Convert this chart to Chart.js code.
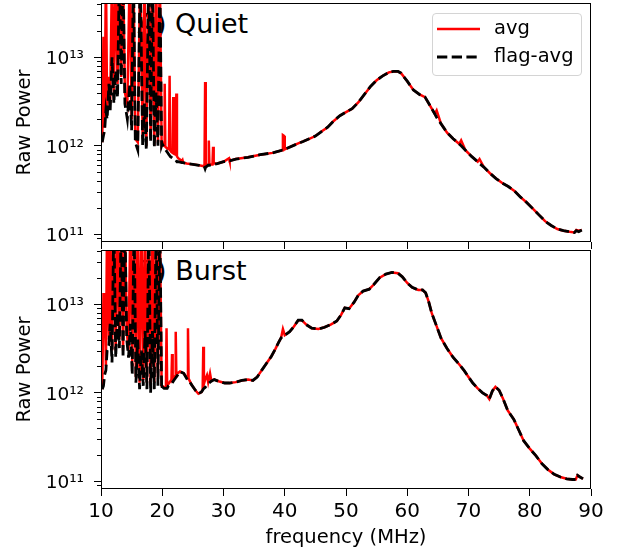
<!DOCTYPE html>
<html>
<head>
<meta charset="utf-8">
<script src="https://cdn.jsdelivr.net/npm/chart.js@4.4.1/dist/chart.umd.min.js"></script>
<style>
  html, body { margin: 0; padding: 0; background: #fff; }
  #fig { position: relative; width: 622px; height: 553px; font-family: "DejaVu Sans", sans-serif; color: #000; overflow: hidden; }
  #fig canvas { position: absolute; left: 0; }
  .panel-label { position: absolute; left: 127px; font-size: 27px; line-height: 27px; white-space: nowrap; }
  #legend { position: absolute; left: 432px; top: 13px; width: 150px; height: 63px; box-sizing: border-box;
            border: 1px solid #d4d4d4; border-radius: 4px; background: rgba(255,255,255,0.8); }
  #legend svg { position: absolute; left: 4px; }
  #legend span { position: absolute; left: 61px; font-size: 19.5px; line-height: 19.5px; white-space: nowrap; }
</style>
</head>
<body>
<div id="fig">
  <div class="panel-label" style="top:9.5px">(A) Quiet</div>
  <div class="panel-label" style="top:256.5px">(B) Burst</div>
  <canvas id="quiet" width="622" height="250" style="top:0"></canvas>
  <canvas id="burst" width="622" height="308" style="top:245px"></canvas>
  <div id="legend"></div>
</div>
<script>
// axis ticks
const xTicks = [10, 20, 30, 40, 50, 60, 70, 80, 90];
const yTicks = [1e11, 1e12, 1e13];
const yTickLabels = ['10\u00b9\u00b9', '10\u00b9\u00b2', '10\u00b9\u00b3'];

// (A) Quiet - frequency (MHz), raw power
const quietFreq = [
  10.2, 10.4, 10.6, 10.8, 11.0, 11.3, 11.5, 11.8, 12.1, 12.4,
  12.7, 13.0, 13.3, 13.6, 13.9, 14.3, 14.7, 15.0, 15.3, 15.6,
  16.0, 16.4, 16.8, 17.1, 17.4, 17.8, 18.1, 18.4, 18.7, 19.0,
  19.3, 19.6, 19.9,
  20.0, 20.3, 20.4, 20.5, 20.8, 21.1, 21.2, 21.3, 21.5, 21.7, 21.8,
  21.9, 22.2, 22.3, 22.4, 22.6, 23.2, 23.3, 23.4, 24.0, 25.0,
  26.0, 26.8, 26.9, 27.0, 27.1, 27.5, 27.6, 27.7, 28.2, 28.3,
  28.4, 29.0, 30.0, 30.9, 31.0, 32.0, 34.0, 36.0, 38.0, 39.6,
  39.7, 39.9, 40.0, 42.0, 43.0, 44.0, 45.0, 46.0, 47.0, 48.0,
  49.0, 50.0, 51.0, 52.0, 53.0, 54.0, 55.0, 56.0, 57.0, 57.7,
  58.5, 59.0, 60.0, 61.0, 62.0, 62.9, 63.5, 64.5, 64.8, 65.5,
  66.5, 67.5, 68.5, 68.8, 69.5, 70.5, 71.5, 71.8, 72.5, 73.5,
  74.5, 75.5, 76.5, 77.5, 78.5, 79.5, 80.5, 81.5, 82.5, 83.5,
  84.5, 85.5, 86.5, 87.3, 87.6, 88.0, 88.5
];
const quietAvg = [
  1.1e12, 1.7e13, 1.6e12, 1e14, 2.5e12, 6e12, 3e12, 1e14, 4e12, 1e14,
  5e12, 1e14, 6e12, 1e14, 4e12, 3e12, 1e14, 2e12, 1e14, 1.2e12,
  1.1e12, 1e14, 1.2e12, 1e14, 1.0e12, 1e14, 1.2e12, 1e14, 1.0e12, 1e14,
  1.1e12, 1e14, 1.05e12,
  1.10e12, 1.00e12, 5.01e12, 9.77e11, 9.33e11, 9.12e11, 6.17e12, 8.91e11, 8.51e11, 8.32e11, 3.55e12,
  8.13e11, 7.94e11, 3.89e12, 7.59e11, 7.24e11, 6.76e11, 6.92e11, 6.46e11, 6.31e11, 6.17e11,
  6.03e11, 5.89e11, 5.89e11, 5.25e12, 6.03e11, 6.17e11, 1.15e12, 6.17e11, 6.17e11, 9.77e11,
  6.31e11, 6.31e11, 6.61e11, 7.24e11, 6.76e11, 7.08e11, 7.41e11, 7.94e11, 8.32e11, 8.91e11,
  1.32e12, 1.29e12, 9.12e11, 1.05e12, 1.12e12, 1.20e12, 1.29e12, 1.45e12, 1.62e12, 1.91e12,
  2.19e12, 2.40e12, 2.63e12, 3.09e12, 3.80e12, 4.68e12, 5.50e12, 6.17e12, 6.76e12, 6.92e12,
  6.92e12, 6.61e12, 5.37e12, 4.27e12, 3.80e12, 3.55e12, 3.02e12, 2.29e12, 2.51e12, 1.78e12,
  1.41e12, 1.20e12, 1.05e12, 1.15e12, 8.91e11, 7.59e11, 6.61e11, 7.08e11, 5.75e11, 4.90e11,
  4.27e11, 3.80e11, 3.47e11, 3.09e11, 2.63e11, 2.29e11, 1.95e11, 1.66e11, 1.41e11, 1.26e11,
  1.15e11, 1.10e11, 1.07e11, 1.05e11, 1.12e11, 1.10e11, 1.12e11
];
const quietFlag = [
  1.1e12, 1.3e12, 1.5e12, 2.5e12, 2.0e12, 5e12, 2.5e12, 1e13, 3e12, 7e12,
  3.5e12, 1e14, 5e12, 1e14, 3e12, 2e12, 5e12, 1.5e12, 1e14, 1.1e12,
  9e11, 1e14, 1.0e12, 3e12, 9e11, 1e14, 1.1e12, 1e14, 9.5e11, 4e12,
  1.0e12, 1e14, 1.0e12,
  1.05e12, 9.55e11, 9.33e11, 9.12e11, 8.51e11, 7.94e11, 7.76e11, 7.59e11, 7.41e11, 7.24e11, 7.08e11,
  7.08e11, 6.92e11, 6.76e11, 6.61e11, 6.61e11, 6.46e11, 6.46e11, 6.46e11, 6.31e11, 6.17e11,
  6.03e11, 5.89e11, 5.75e11, 5.50e11, 5.75e11, 6.03e11, 6.03e11, 6.03e11, 6.17e11, 6.17e11,
  6.17e11, 6.31e11, 6.61e11, 6.76e11, 6.76e11, 7.08e11, 7.41e11, 7.94e11, 8.32e11, 8.91e11,
  8.91e11, 9.12e11, 9.12e11, 1.05e12, 1.12e12, 1.20e12, 1.29e12, 1.45e12, 1.62e12, 1.91e12,
  2.19e12, 2.40e12, 2.63e12, 3.09e12, 3.80e12, 4.68e12, 5.50e12, 6.17e12, 6.76e12, 6.92e12,
  6.92e12, 6.61e12, 5.37e12, 4.27e12, 3.80e12, 3.55e12, 3.02e12, 2.29e12, 2.09e12, 1.78e12,
  1.41e12, 1.20e12, 1.05e12, 1.00e12, 8.91e11, 7.59e11, 6.61e11, 6.31e11, 5.75e11, 4.90e11,
  4.27e11, 3.80e11, 3.47e11, 3.09e11, 2.63e11, 2.29e11, 1.95e11, 1.66e11, 1.41e11, 1.26e11,
  1.15e11, 1.10e11, 1.07e11, 1.05e11, 1.10e11, 1.07e11, 1.12e11
];

// (B) Burst
const burstFreq = [
  10.2, 10.4, 10.6, 10.8, 11.0, 11.3, 11.5, 11.8, 12.1, 12.4,
  12.7, 13.0, 13.3, 13.6, 13.9, 14.2, 14.5, 14.8, 15.1, 15.4,
  15.7, 16.0, 16.3, 16.6, 16.9, 17.2, 17.5, 17.8, 18.1, 18.4,
  18.7, 19.0, 19.3, 19.6, 19.9,
  20.0, 20.3, 20.6, 20.7, 20.8, 21.0, 21.5, 21.6, 21.7, 22.1, 22.2,
  22.3, 22.9, 23.5, 24.1, 24.2, 24.3, 24.8, 25.4, 25.9, 26.4,
  26.6, 26.7, 26.8, 27.0, 27.3, 27.5, 27.8, 28.0, 28.5, 29.2,
  30.2, 31.0, 32.0, 33.0, 34.0, 34.8, 35.5, 36.2, 37.0, 37.8,
  38.5, 39.0, 39.4, 39.7, 40.0, 40.8, 41.5, 42.2, 42.8, 43.5,
  44.4, 45.5, 46.5, 47.5, 48.5, 49.2, 49.8, 50.5, 51.3, 52.0,
  52.8, 53.8, 54.5, 55.5, 56.5, 57.5, 58.5, 59.2, 60.0, 60.8,
  61.8, 62.5, 63.0, 63.5, 64.0, 64.7, 65.5, 66.5, 67.5, 68.5,
  69.3, 70.0, 70.7, 71.5, 72.3, 73.0, 73.4, 73.9, 74.4, 75.0,
  75.6, 76.4, 77.4, 78.2, 79.0, 80.0, 81.0, 82.0, 83.0, 84.0,
  85.0, 86.0, 87.0, 87.5, 87.8, 88.2, 88.7
];
const burstAvg = [
  1.1e12, 1.3e13, 1.3e13, 2.0e12, 1e14, 4e12, 1e14, 3e12, 1e14, 3e12,
  1e14, 4e12, 1e14, 3e12, 1e14, 5e12, 3e12, 1e14, 2e12, 1e14,
  1.5e12, 1e14, 1.3e12, 1e14, 1.4e12, 1e14, 1.3e12, 1e14, 1.2e12, 1e14,
  1.3e12, 1e14, 1.5e12, 1e14, 1.2e12,
  1.20e12, 1.15e12, 1.15e12, 5.37e12, 1.20e12, 1.26e12, 1.41e12, 2.75e12, 1.41e12, 1.55e12, 4.90e12,
  1.62e12, 1.74e12, 1.66e12, 1.45e12, 5.37e12, 1.45e12, 1.23e12, 1.07e12, 9.77e11, 1.02e12,
  1.10e12, 3.31e12, 1.26e12, 1.41e12, 1.58e12, 1.32e12, 1.66e12, 1.38e12, 1.41e12, 1.35e12,
  1.29e12, 1.29e12, 1.32e12, 1.38e12, 1.41e12, 1.38e12, 1.51e12, 1.78e12, 2.14e12, 2.57e12,
  3.16e12, 3.72e12, 4.17e12, 5.25e12, 4.47e12, 4.90e12, 5.62e12, 6.61e12, 6.61e12, 5.89e12,
  5.37e12, 5.25e12, 5.50e12, 5.89e12, 6.46e12, 7.59e12, 9.12e12, 8.91e12, 1.05e13, 1.26e13,
  1.41e13, 1.48e13, 1.66e13, 2.00e13, 2.19e13, 2.29e13, 2.24e13, 2.04e13, 1.74e13, 1.55e13,
  1.45e13, 1.45e13, 1.35e13, 1.07e13, 7.94e12, 5.89e12, 4.17e12, 3.16e12, 2.51e12, 2.09e12,
  1.78e12, 1.51e12, 1.29e12, 1.12e12, 1.00e12, 9.33e11, 8.51e11, 1.05e12, 1.17e12, 1.07e12,
  8.71e11, 6.31e11, 5.01e11, 3.80e11, 2.88e11, 2.34e11, 1.95e11, 1.58e11, 1.35e11, 1.20e11,
  1.12e11, 1.07e11, 1.05e11, 1.05e11, 1.17e11, 1.12e11, 1.07e11
];
const burstFlag = [
  1.1e12, 1.2e12, 1.6e12, 1.8e12, 3e12, 3.5e12, 6e12, 2.2e12, 1e14, 2.5e12,
  8e12, 3.2e12, 1e14, 2.5e12, 1e14, 4e12, 2.5e12, 6e12, 1.6e12, 1e14,
  1.3e12, 4e12, 1.1e12, 3e12, 1.2e12, 5e12, 1.1e12, 1e14, 1.0e12, 5e12,
  1.1e12, 1e14, 1.2e12, 1e14, 1.1e12,
  1.17e12, 1.12e12, 1.12e12, 1.12e12, 1.12e12, 1.20e12, 1.29e12, 1.29e12, 1.32e12, 1.45e12, 1.48e12,
  1.51e12, 1.74e12, 1.66e12, 1.41e12, 1.41e12, 1.38e12, 1.23e12, 1.07e12, 9.77e11, 1.02e12,
  1.07e12, 1.10e12, 1.12e12, 1.15e12, 1.23e12, 1.26e12, 1.32e12, 1.35e12, 1.41e12, 1.35e12,
  1.29e12, 1.29e12, 1.32e12, 1.38e12, 1.41e12, 1.38e12, 1.51e12, 1.78e12, 2.14e12, 2.57e12,
  3.16e12, 3.72e12, 4.17e12, 4.37e12, 4.47e12, 4.90e12, 5.62e12, 6.61e12, 6.61e12, 5.89e12,
  5.37e12, 5.25e12, 5.50e12, 5.89e12, 6.46e12, 7.59e12, 9.12e12, 8.91e12, 1.05e13, 1.26e13,
  1.41e13, 1.48e13, 1.66e13, 2.00e13, 2.19e13, 2.29e13, 2.24e13, 2.04e13, 1.74e13, 1.55e13,
  1.45e13, 1.45e13, 1.35e13, 1.07e13, 7.94e12, 5.89e12, 4.17e12, 3.16e12, 2.51e12, 2.09e12,
  1.78e12, 1.51e12, 1.29e12, 1.12e12, 1.00e12, 9.33e11, 8.51e11, 1.05e12, 1.17e12, 1.07e12,
  8.71e11, 6.31e11, 5.01e11, 3.80e11, 2.88e11, 2.34e11, 1.95e11, 1.58e11, 1.35e11, 1.20e11,
  1.12e11, 1.07e11, 1.05e11, 1.05e11, 1.17e11, 1.12e11, 1.07e11
];

const FONT = '"DejaVu Sans", sans-serif';
const RED = '#ff0000';
const DASH = [10.3, 4.4];

// box round the axes + short minor ticks on the log axis
const framePlugin = {
  id: 'frame',
  afterDraw(chart) {
    const { ctx, chartArea: a } = chart;
    const y = chart.scales.y;
    ctx.save();
    ctx.strokeStyle = '#000';
    ctx.lineWidth = 1;
    ctx.beginPath();
    for (let e = 10; e <= 13; e++) {
      for (let m = 2; m <= 9; m++) {
        const v = m * Math.pow(10, e);
        if (v < y.min || v > y.max) continue;
        const py = Math.round(y.getPixelForValue(v)) + 0.5;
        ctx.moveTo(a.left - 4, py);
        ctx.lineTo(a.left, py);
      }
    }
    ctx.stroke();
    ctx.strokeRect(Math.round(a.left) + 0.5, Math.round(a.top) + 0.5,
                   Math.round(a.right - a.left) - 1, Math.round(a.bottom - a.top) - 1);
    ctx.restore();
  }
};

function makePanel(id, freq, avg, flag, showX) {
  const pts = arr => freq.map((f, i) => ({ x: f, y: arr[i] }));
  return new Chart(document.getElementById(id), {
    type: 'line',
    data: {
      datasets: [
        { label: 'avg', data: pts(avg), borderColor: RED, borderWidth: 2.5, order: 2, clip: 0 },
        { label: 'flag-avg', data: pts(flag), borderColor: '#000', borderWidth: 2.8, borderDash: DASH, order: 1, clip: 0 }
      ]
    },
    options: {
      responsive: false,
      animation: false,
      events: [],
      elements: { point: { radius: 0 }, line: { tension: 0 } },
      layout: { padding: showX ? { top: 5, right: 31, left: 0, bottom: 0 } : { top: 3, right: 31, left: 0, bottom: 1 } },
      plugins: { legend: { display: false }, tooltip: { enabled: false } },
      scales: {
        x: {
          type: 'linear', min: 10, max: 90, bounds: 'data',
          afterBuildTicks: s => { s.ticks = xTicks.map(v => ({ value: v })); },
          afterFit: s => { s.height = showX ? 64 : 7; s.paddingLeft = 0; s.paddingRight = 0; },
          border: { display: false },
          grid: { drawOnChartArea: false, tickLength: 7, color: '#000' },
          ticks: { display: showX, padding: 4, color: '#000', maxRotation: 0, font: { family: FONT, size: 20 } },
          title: { display: showX, text: 'frequency (MHz)', color: '#000', font: { family: FONT, size: 19.5 }, padding: { top: 0, bottom: 3 } }
        },
        y: {
          type: 'logarithmic', min: 8.2e10, max: 4.1e13, bounds: 'data',
          afterBuildTicks: s => { s.ticks = yTicks.map(v => ({ value: v, major: true })); },
          afterFit: s => { s.width = 101; s.paddingTop = 0; s.paddingBottom = 0; },
          border: { display: false },
          grid: { drawOnChartArea: false, tickLength: 7, color: '#000' },
          ticks: {
            padding: 10, labelOffset: 2, color: '#000', font: { family: FONT, size: 18.5 },
            callback: v => { const i = yTicks.indexOf(v); return i < 0 ? '' : yTickLabels[i]; }
          },
          title: { display: true, text: 'Raw Power', color: '#000', font: { family: FONT, size: 19.5 }, padding: { top: 13.6, bottom: 0 } }
        }
      }
    },
    plugins: [framePlugin]
  });
}

const quietChart = makePanel('quiet', quietFreq, quietAvg, quietFlag, false);
makePanel('burst', burstFreq, burstAvg, burstFlag, true);

// legend box inside the top panel, built from the datasets
const legend = document.getElementById('legend');
quietChart.data.datasets.forEach((ds, i) => {
  const dash = ds.borderDash ? ` stroke-dasharray="${ds.borderDash.join(' ')}"` : '';
  legend.insertAdjacentHTML('beforeend',
    `<svg width="43" height="8" style="top:${11 + i * 28.2}px"><line x1="0" y1="4" x2="43" y2="4" stroke="${ds.borderColor}" stroke-width="${ds.borderWidth}"${dash}/></svg>` +
    `<span style="top:${4 + i * 28.2}px">${ds.label}</span>`);
});
</script>
</body>
</html>
